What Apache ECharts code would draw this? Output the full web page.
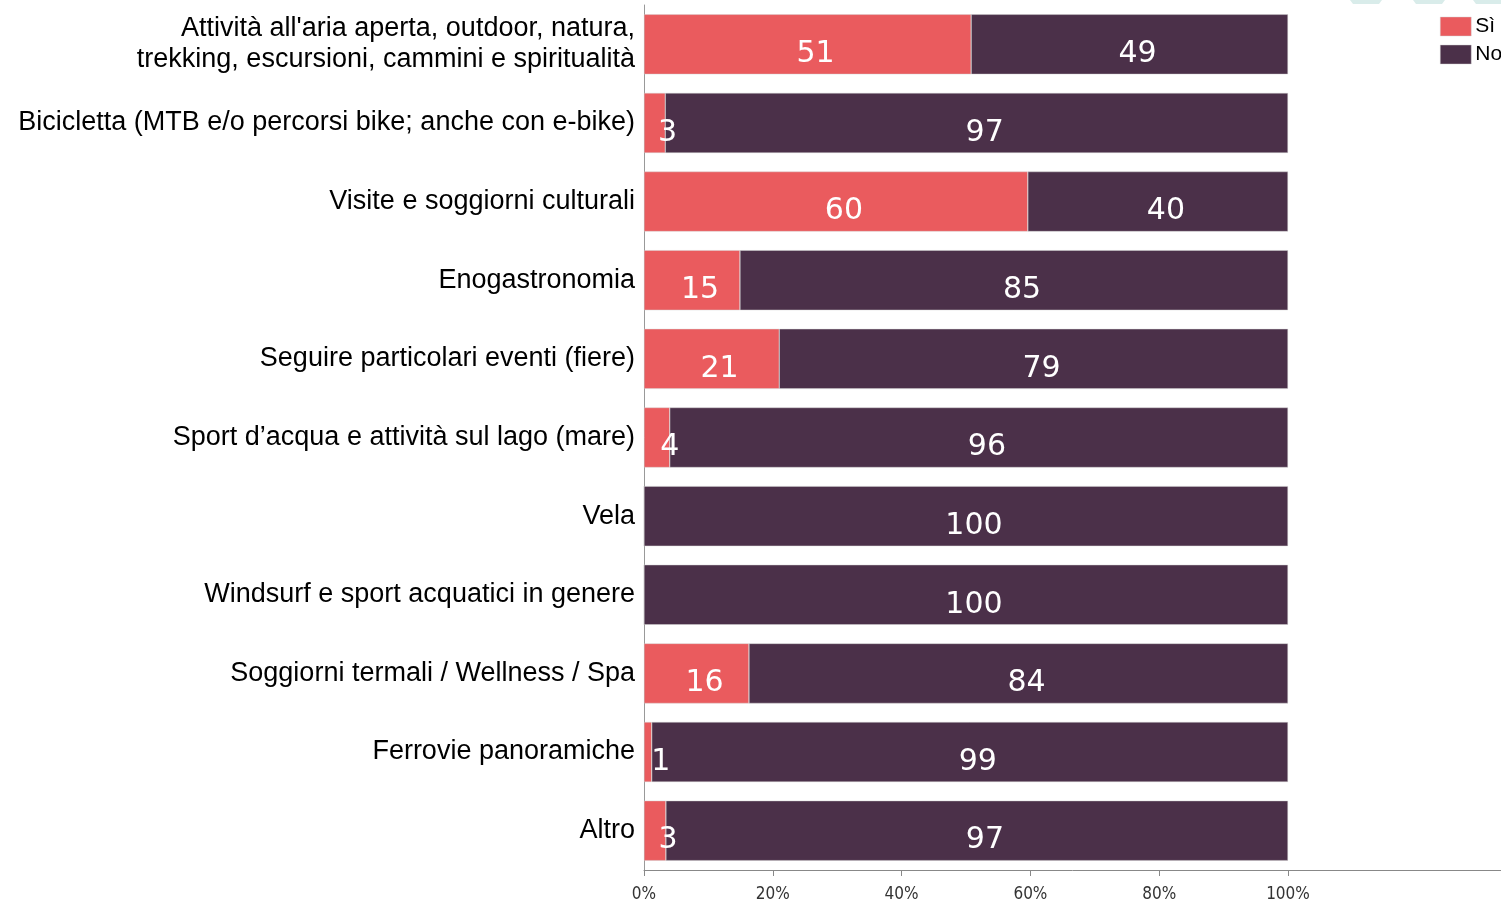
<!DOCTYPE html>
<html>
<head>
<meta charset="utf-8">
<title>Attività</title>
<script src="https://cdn.jsdelivr.net/npm/echarts@6/dist/echarts.min.js"></script>
<style>
  html, body { margin: 0; padding: 0; background: #fff; }
  #chart { width: 1501px; height: 904px; }
</style>
</head>
<body>
<div id="chart"></div>
<script>
const categories = [
  "Attività all'aria aperta, outdoor, natura,\ntrekking, escursioni, cammini e spiritualità",
  'Bicicletta (MTB e/o percorsi bike; anche con e-bike)',
  'Visite e soggiorni culturali',
  'Enogastronomia',
  'Seguire particolari eventi (fiere)',
  'Sport d\u2019acqua e attività sul lago (mare)',
  'Vela',
  'Windsurf e sport acquatici in genere',
  'Soggiorni termali / Wellness / Spa',
  'Ferrovie panoramiche',
  'Altro',
];
const si = [50.8, 3.3, 59.6, 14.9, 21, 4, 0, 0, 16.3, 1.2, 3.4];
const no = [49.2, 96.7, 40.4, 85.1, 79, 96, 100, 100, 83.7, 98.8, 96.6];
const ticks = [0, 20, 40, 60, 80, 100];

const RED = '#ea5b5e';
const PURPLE = '#4b3049';
const TEAL = '#d9ecea';

const labelStyle = {
  show: true,
  position: 'inside',
  color: '#fff',
  fontFamily: 'DejaVu Sans',
  fontSize: 30,
  offset: [8, 10],
  formatter: (p) => (p.value > 0 ? String(Math.round(p.value)) : ''),
};

// small segments: the number sits a bit further right
const toItems = (arr) => arr.map((v) => (v > 0 && v < 8
  ? { value: v, label: { offset: [13, 10] } }
  : v));

// faint shapes cut off at the top edge of the picture
const tab = (x1, x2) => ({
  type: 'polygon',
  silent: true,
  shape: { points: [[x1, 0], [x2, 0], [x2 - 3, 4], [x1 + 3, 4]] },
  style: { fill: TEAL },
});

const chart = echarts.init(document.getElementById('chart'));
chart.setOption({
  animation: false,
  graphic: [tab(1350, 1382), tab(1413, 1445), tab(1473, 1504)],
  legend: {
    orient: 'vertical',
    left: 1440,
    top: 16,
    padding: 0,
    itemWidth: 31,
    itemHeight: 19,
    itemGap: 7,
    icon: 'rect',
    itemStyle: { borderColor: 'rgba(210,210,210,0.9)', borderWidth: 0.5 },
    textStyle: { fontFamily: 'Liberation Sans', fontSize: 21, color: '#000', padding: [0, 0, 0, -1] },
    data: ['Sì', 'No'],
  },
  grid: {
    left: 644,
    right: 0,
    top: 5,
    bottom: 34,
  },
  xAxis: {
    type: 'value',
    min: 0,
    max: 100 * 857 / 644,
    splitLine: { show: false },
    axisLine: { show: true, lineStyle: { color: '#888', width: 1 } },
    axisTick: { show: true, length: 6, customValues: ticks, lineStyle: { color: '#888' } },
    axisLabel: {
      customValues: ticks,
      formatter: '{value}%',
      fontFamily: "'DejaVu Sans Condensed', 'Liberation Sans Narrow', 'DejaVu Sans'",
      fontSize: 17,
      color: '#333',
      margin: 16,
    },
  },
  yAxis: {
    type: 'category',
    inverse: true,
    data: categories,
    axisLine: { show: true, lineStyle: { color: '#999', width: 1 } },
    axisTick: { show: false },
    axisLabel: {
      fontFamily: 'Liberation Sans',
      fontSize: 27,
      lineHeight: 31,
      color: '#000',
      margin: 9,
      align: 'right',
    },
  },
  series: [
    {
      name: 'Sì',
      type: 'bar',
      stack: 'tot',
      barWidth: 60,
      itemStyle: { color: RED, borderColor: 'rgba(210,210,210,0.9)', borderWidth: 0.5 },
      label: labelStyle,
      data: toItems(si),
    },
    {
      name: 'No',
      type: 'bar',
      stack: 'tot',
      barWidth: 60,
      itemStyle: { color: PURPLE, borderColor: 'rgba(210,210,210,0.9)', borderWidth: 0.5 },
      label: labelStyle,
      data: no,
    },
  ],
});
</script>
</body>
</html>
